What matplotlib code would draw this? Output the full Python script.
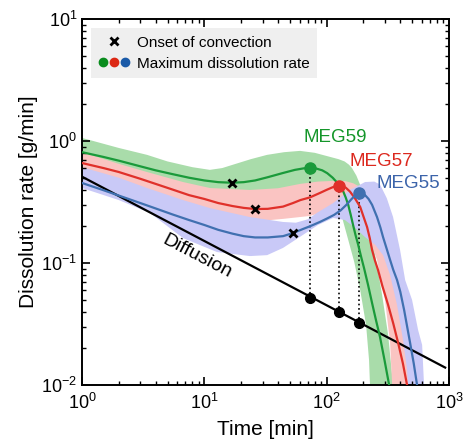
import matplotlib
matplotlib.use('Agg')
import matplotlib.pyplot as plt
from matplotlib.lines import Line2D
from matplotlib.legend_handler import HandlerTuple

plt.rcParams['font.family'] = ['Liberation Sans', 'DejaVu Sans']
plt.rcParams['mathtext.fontset'] = 'custom'
plt.rcParams['mathtext.rm'] = 'Liberation Sans'
plt.rcParams['mathtext.default'] = 'regular'
plt.rcParams['axes.unicode_minus'] = False

# main curves (time in min, rate in g/min)
meg59_t = [1, 1.5, 2, 3, 4, 5.5, 7.5, 10, 13, 16.8, 21, 26, 33, 44, 55, 65, 73, 82, 92, 101, 112, 122, 130, 136,
           143, 150, 157, 164, 172, 181, 191, 202, 218, 235, 253, 273, 297, 324, 345]
meg59_rate = [0.81, 0.74, 0.69, 0.62, 0.575, 0.535, 0.50, 0.475, 0.46, 0.455, 0.46, 0.475, 0.505, 0.547, 0.58,
              0.597, 0.60, 0.595, 0.575, 0.545, 0.50, 0.455, 0.42, 0.39, 0.345, 0.30, 0.25, 0.207, 0.17, 0.141,
              0.113, 0.091, 0.066, 0.047, 0.034, 0.0247, 0.016, 0.010, 0.0078]

meg57_t = [1, 1.5, 2, 3, 4, 5.5, 7.5, 10, 13, 17, 21, 26, 33, 44, 53, 61, 73, 88, 100, 112, 122, 132, 143, 155,
           170, 188, 200, 214, 225, 235, 248, 263, 285, 318, 350, 384, 420, 454, 475]
meg57_rate = [0.66, 0.60, 0.557, 0.49, 0.445, 0.40, 0.36, 0.335, 0.31, 0.293, 0.283, 0.277, 0.278, 0.29, 0.31,
              0.328, 0.345, 0.375, 0.398, 0.418, 0.428, 0.428, 0.415, 0.385, 0.34, 0.288, 0.24, 0.197, 0.16,
              0.128, 0.105, 0.0877, 0.065, 0.0453, 0.032, 0.0221, 0.015, 0.010, 0.0082]

meg55_t = [1, 1.5, 2, 3, 4, 5.5, 7.5, 10, 13, 17, 21, 26, 33, 44, 53, 64, 73, 88, 101, 115, 130, 145, 160, 172,
           184, 195, 206, 220, 235, 258, 275, 289, 310, 330, 350, 376, 400, 430, 455, 481, 515, 548, 575]
meg55_rate = [0.453, 0.395, 0.357, 0.31, 0.28, 0.25, 0.225, 0.205, 0.187, 0.174, 0.166, 0.162, 0.162, 0.166,
              0.176, 0.19, 0.2, 0.217, 0.232, 0.248, 0.27, 0.30, 0.335, 0.36, 0.375, 0.375, 0.36, 0.335, 0.30,
              0.238, 0.195, 0.163, 0.13, 0.106, 0.088, 0.0726, 0.058, 0.041, 0.030, 0.0221, 0.015, 0.010, 0.0080]

# spread of the ensembles: outline of each shaded band (upper edge left->right, lower edge right->left)
band59_t = [1, 2, 3.4, 5, 8, 11.1, 14, 17.2, 24, 32.6, 45, 60.6, 80, 107, 125, 140, 152, 161, 175, 188, 203, 218,
            249, 284, 318, 349, 362,
            226, 226, 222, 210, 188, 168, 150, 134, 117, 88, 60.6, 32.6, 17.2, 11.1, 3.4, 1]
band59_rate = [1.06, 0.877, 0.77, 0.68, 0.61, 0.58, 0.60, 0.64, 0.71, 0.77, 0.81, 0.83, 0.80, 0.74, 0.71, 0.68,
               0.64, 0.60, 0.52, 0.436, 0.33, 0.247, 0.116, 0.0547, 0.0257, 0.010, 0.0082,
               0.0082, 0.010, 0.016, 0.031, 0.060, 0.102, 0.155, 0.234, 0.299, 0.341, 0.341, 0.328, 0.328, 0.341,
               0.479, 0.70]

band57_t = [1, 2, 3.4, 6.7, 11.1, 23.6, 40, 60.6, 85, 107, 141, 165, 188, 226, 273, 330, 384, 438, 481, 499,
            343, 343, 330, 300, 258, 218, 181, 141, 107, 73, 44, 23.6, 11.1, 3.4, 1]
band57_rate = [0.81, 0.65, 0.557, 0.461, 0.412, 0.397, 0.41, 0.445, 0.465, 0.47, 0.47, 0.45, 0.42, 0.328, 0.205,
               0.102, 0.0498, 0.0213, 0.010, 0.0082,
               0.0082, 0.010, 0.0221, 0.0498, 0.106, 0.17, 0.247, 0.299, 0.272, 0.243, 0.23, 0.217, 0.234, 0.328,
               0.50]

band55_t = [1, 2, 3.4, 6.7, 11.1, 23.6, 44, 56, 70, 83, 113, 155, 206, 245, 273, 310, 349, 398, 438, 499, 559, 603,
            625, 638,
            463, 463, 454, 421, 376, 330, 289, 249, 206, 171, 141, 113, 85, 64, 44, 32.6, 23.6, 12.7, 6.7, 3.6, 2,
            1]
band55_rate = [0.61, 0.50, 0.412, 0.328, 0.282, 0.238, 0.217, 0.214, 0.228, 0.257, 0.310, 0.397, 0.461, 0.465,
               0.44, 0.34, 0.238, 0.128, 0.0726, 0.0498, 0.0282, 0.0213, 0.010, 0.0082,
               0.0082, 0.010, 0.0133, 0.0234, 0.0453, 0.0798, 0.116, 0.141, 0.163, 0.194, 0.225, 0.234, 0.205,
               0.170, 0.133, 0.116, 0.114, 0.123, 0.160, 0.257, 0.328, 0.412]

diffusion_t = [1, 930]
diffusion_rate = [0.51, 0.0139]

onset_t = [16.8, 26, 53]
onset_rate = [0.455, 0.277, 0.176]

max_t = [73, 126, 184]
max_rate = [0.60, 0.43, 0.375]
max_diffusion_rate = [0.052, 0.040, 0.0325]

names = ['MEG59', 'MEG57', 'MEG55']
line_colors = ['#1a9a3a', '#e0302a', '#4070b0']
band_colors = ['#a9dcaa', '#fac4c2', '#c9c9f7']
text_colors = ['#14962a', '#dc281e', '#3c64aa']
legend_dot_colors = ['#0a8c1e', '#dc2814', '#1a5aa8']
label_t = [117, 278, 463]
label_rate = [1.06, 0.68, 0.45]


def main():
  fig = plt.figure(figsize=(4.64, 4.45), dpi=100)
  ax = fig.add_axes([0.1767, 0.1348, 0.791, 0.8225])
  ax.set_xscale('log')
  ax.set_yscale('log')

  bands = [(band59_t, band59_rate), (band57_t, band57_rate), (band55_t, band55_rate)]
  for (bt, br), c in zip(bands, band_colors):
    ax.fill(bt, br, color=c, lw=0, zorder=1)

  ax.plot(diffusion_t, diffusion_rate, color='k', lw=1.6, zorder=3)
  for t, r0, r1 in zip(max_t, max_diffusion_rate, max_rate):
    ax.plot([t, t], [r0, r1], color='k', ls=':', lw=1.2, zorder=2)

  curves = [(meg59_t, meg59_rate), (meg57_t, meg57_rate), (meg55_t, meg55_rate)]
  for (ct, cr), c in zip(curves, line_colors):
    ax.plot(ct, cr, color=c, lw=1.6, zorder=4)

  for i in range(3):
    ax.plot(max_t[i], max_rate[i], 'o', color=line_colors[i], ms=8, zorder=5)
    ax.text(label_t[i], label_rate[i], names[i], color=text_colors[i], fontsize=13.5,
            ha='center', va='center', zorder=6)
  ax.plot(max_t, max_diffusion_rate, 'o', color='k', ms=7, ls='none', zorder=5)
  ax.plot(onset_t, onset_rate, 'x', color='k', ms=6, mew=2, ls='none', zorder=6)

  ax.text(8.7, 0.112, 'Diffusion', rotation=-27.6, fontsize=14, ha='center', va='center')

  ax.set_xlim(1, 1000)
  ax.set_ylim(0.01, 10)
  ax.set_xlabel('Time [min]', fontsize=15, labelpad=5)
  ax.set_ylabel('Dissolution rate [g/min]', fontsize=15, labelpad=2)
  ax.tick_params(which='both', direction='in', top=True, right=True, labelsize=13)
  ax.tick_params(which='major', length=6, width=1.2)
  ax.tick_params(which='minor', length=3, width=1.0)
  ax.tick_params(axis='x', pad=6)
  for s in ax.spines.values():
    s.set_linewidth(1.4)

  h_x = Line2D([], [], marker='x', color='k', ls='none', ms=6, mew=2)
  dots = tuple(Line2D([], [], marker='o', color=c, ls='none', ms=6) for c in legend_dot_colors)
  leg = ax.legend([h_x, dots], ['Onset of convection', 'Maximum dissolution rate'],
                  handler_map={tuple: HandlerTuple(ndivide=None, pad=0.2)},
                  loc='upper left', fontsize=11, frameon=True, facecolor='#efefef', edgecolor='none',
                  framealpha=1, fancybox=False, handlelength=2.0, handletextpad=0.5, borderpad=0.5,
                  labelspacing=0.45, borderaxespad=0.6)
  leg.set_zorder(7)

  fig.savefig('out.png', dpi=100)


if __name__ == '__main__':
  main()
